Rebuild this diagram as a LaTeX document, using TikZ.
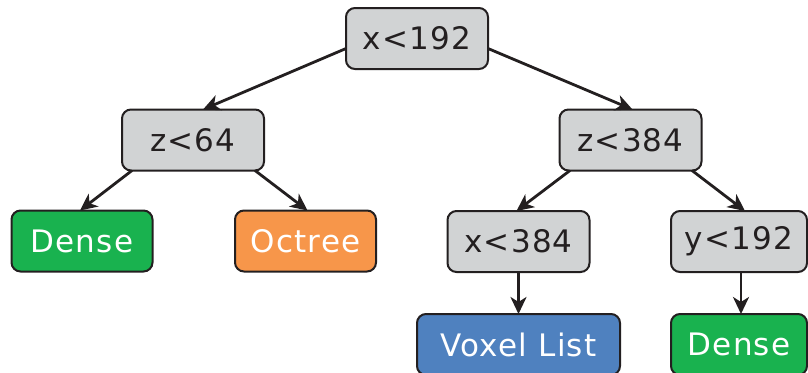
\documentclass[tikz,border=0pt]{standalone}
\usepackage{fontspec}
\setmainfont{DejaVu Sans}[LetterSpace=4]
\usetikzlibrary{arrows.meta,calc}
\definecolor{edgeink}{HTML}{231F20}
\definecolor{testgray}{HTML}{D1D3D4}
\definecolor{densegreen}{HTML}{19B24F}
\definecolor{octorange}{HTML}{F7964A}
\definecolor{voxelblue}{HTML}{4F81BF}
\tikzset{
  box/.style={draw=edgeink, line width=2pt, rounded corners=9pt,
    minimum height=61pt, inner sep=0pt, outer sep=0pt,
    font=\fontsize{31}{32}\selectfont},
  test/.style={box, fill=testgray, text=edgeink, minimum width=142pt},
  leaf/.style={box, text=white},
  link/.style={draw=edgeink, line width=2.8pt,
    -{Stealth[length=17pt, width=16pt, inset=5pt]}},
}
\begin{document}
\begin{tikzpicture}[x=1pt, y=-1pt]
  \useasboundingbox (0,0) rectangle (808,372);
  % decision nodes
  \node[test] (root) at (417,38.5) {x<192};
  \node[test] (z64)  at (193,140) {z<64};
  \node[test] (z384) at (630.5,140) {z<384};
  \node[test] (x384) at (518.5,241.5) {x<384};
  \node[test, minimum width=136pt] (y192) at (739,241.5) {y<192};
  % leaves
  \node[leaf, fill=densegreen, minimum width=141pt] (denseA) at (82,241) {Dense};
  \node[leaf, fill=octorange, minimum width=141pt] (octree) at (305.5,241) {Octree};
  \node[leaf, fill=voxelblue, minimum width=203pt] (voxel) at (518.5,344.5) {Voxel List};
  \node[leaf, fill=densegreen, minimum width=136pt] (denseB) at (739,344.5) {Dense};
  % connectors
  \draw[link] ($(root.west)+(0,10)$) -- ($(z64.north)+(10,0)$);
  \draw[link] ($(root.east)+(0,10)$) -- ($(z384.north)+(2,0)$);
  \draw[link] ($(z64.south)+(-61,0)$) -- ($(denseA.north)+(-2,0)$);
  \draw[link] ($(z64.south)+(62,0)$) -- ($(octree.north)+(2,0)$);
  \draw[link] ($(z384.south)+(-60.5,0)$) -- ($(x384.north)+(-2,0)$);
  \draw[link] ($(z384.south)+(61.5,0)$) -- ($(y192.north)+(6,0)$);
  \draw[link] (x384.south) -- (voxel.north);
  \draw[link] ($(y192.south)+(2,0)$) -- ($(denseB.north)+(2,0)$);
\end{tikzpicture}
\end{document}
